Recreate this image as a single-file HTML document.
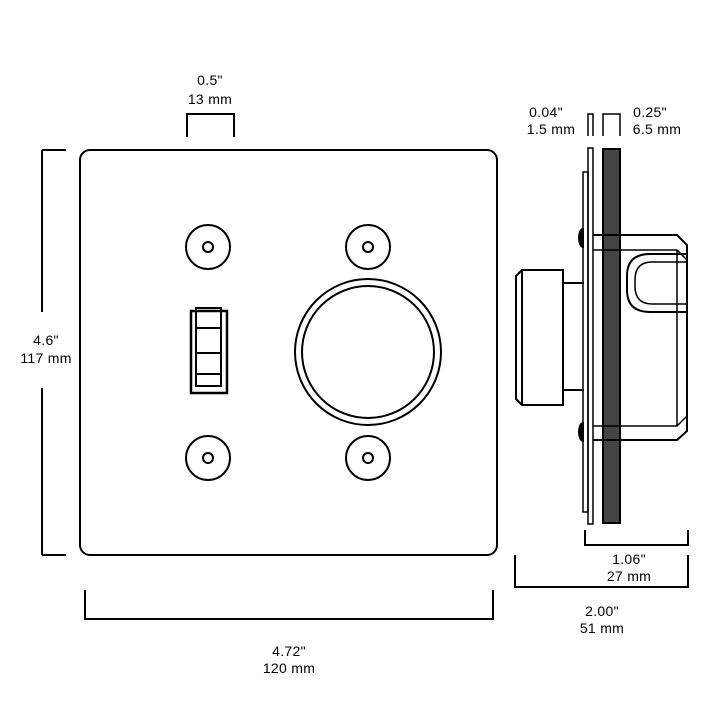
<!DOCTYPE html>
<html><head><meta charset="utf-8"><style>
body{margin:0;background:#fff;}
svg{display:block}
text{font-family:"Liberation Sans",sans-serif;font-size:14px;fill:#000;text-anchor:middle;letter-spacing:0.3px}
</style></head><body>
<svg width="710" height="710" viewBox="0 0 710 710" fill="none" stroke="#000" stroke-width="2">
<rect x="80" y="150" width="417" height="405" rx="10"/>
<g>
<circle cx="208" cy="247" r="22"/><circle cx="208" cy="247" r="5"/>
<circle cx="368" cy="247" r="22"/><circle cx="368" cy="247" r="5"/>
<circle cx="208" cy="458" r="22"/><circle cx="208" cy="458" r="5"/>
<circle cx="368" cy="458" r="22"/><circle cx="368" cy="458" r="5"/>
</g>
<circle cx="368" cy="352" r="73"/><circle cx="368" cy="352" r="66"/>
<rect x="191" y="311" width="36" height="82" stroke-width="2.5"/>
<rect x="196" y="308" width="25" height="78"/>
<line x1="196" y1="328" x2="221" y2="328"/><line x1="196" y1="353" x2="221" y2="353"/><line x1="196" y1="374" x2="221" y2="374"/>
<path d="M187 137V114H234V137"/>
<path d="M42 150H66M42 150V312M42 388V555M42 555H66"/>
<path d="M85 590V619H493V590"/>
<rect x="583" y="172" width="5" height="340" stroke-width="1.5"/>
<rect x="588" y="148" width="5" height="376" stroke-width="1.5"/>
<rect x="603" y="149" width="17" height="374" fill="#444" stroke-width="2"/>
<path d="M593 235H677L687 245V431L677 440H593" stroke-width="2"/>
<path d="M593 250H677L687 260M593 426H677L687 416M677 250V426" stroke-width="1.5"/>
<path d="M687 254H650Q627 254 627 276V290Q627 312 650 312H687" stroke-width="2"/>
<path d="M687 262H652Q635 262 635 280V286Q635 304 652 304H687" stroke-width="1.5"/>
<path d="M522 270H563V405H522L516 399V276Z"/>
<line x1="522" y1="270" x2="522" y2="405"/>
<path d="M563 283H584M563 390H584"/>
<path d="M583 229a4 9 0 0 0 0 18Z M583 423a4 9 0 0 0 0 18Z" fill="#000"/>
<path d="M588 136V114H593V136" stroke-width="1.5"/>
<path d="M603 136V114H620V136" stroke-width="1.5"/>
<path d="M585 530V545H688V530"/>
<path d="M515 555V587H688V555"/>
</svg>
<svg width="710" height="710" style="position:absolute;left:0;top:0">
<text x="210" y="85">0.5"</text><text x="210" y="104">13 mm</text>
<text x="46" y="345">4.6"</text><text x="46" y="363">117 mm</text>
<text x="289" y="656">4.72"</text><text x="289" y="673">120 mm</text>
<text x="546" y="117">0.04"</text><text x="551" y="134">1.5 mm</text>
<text x="650" y="117">0.25"</text><text x="657" y="134">6.5 mm</text>
<text x="629" y="564">1.06"</text><text x="629" y="581">27 mm</text>
<text x="602" y="616">2.00"</text><text x="602" y="633">51 mm</text>
</svg>
</body></html>
